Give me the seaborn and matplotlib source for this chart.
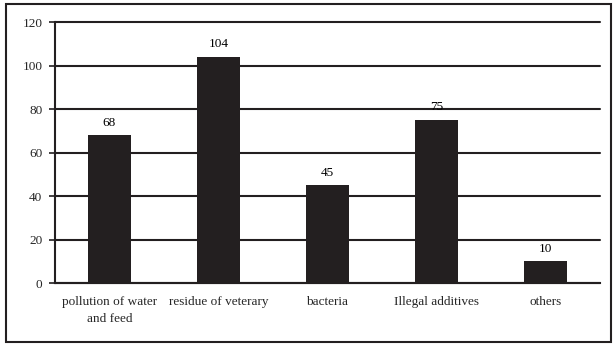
import matplotlib
matplotlib.use("Agg")
import matplotlib.pyplot as plt
from matplotlib.patches import Rectangle
import seaborn as sns
import pandas as pd

categories = ["pollution of water\nand feed", "residue of veterary", "bacteria",
              "Illegal additives", "others"]
counts = [68, 104, 45, 75, 10]
y_ticks = [0, 20, 40, 60, 80, 100, 120]

sns.set_theme(style="white")
plt.rcParams["font.family"] = ["Liberation Serif", "DejaVu Serif"]

df = pd.DataFrame({"category": categories, "count": counts})
ink = "#231f20"
fs = 9.5

fig = plt.figure(figsize=(6.13, 3.44), dpi=100)
ax = fig.add_axes([0.0897, 0.177, 0.889, 0.759])

sns.barplot(data=df, x="category", y="count", color=ink, saturation=1,
            width=0.4, linewidth=0, ax=ax, zorder=3)

for i, v in enumerate(counts):
    ax.text(i, v + 3, str(v), ha="center", va="bottom", fontsize=fs, color="black")

ax.set_ylim(0, 120)
ax.set_xlim(-0.5, len(categories) - 0.5)
ax.set_yticks(y_ticks)
ax.set_yticklabels([str(t) for t in y_ticks], fontsize=fs)
ax.yaxis.grid(True, color=ink, linewidth=1.5, zorder=0)
ax.set_axisbelow(True)
for gl in ax.get_ygridlines():
    gl.set_clip_on(False)

ax.set_xticks(range(len(categories)))
ax.set_xticklabels(categories, fontsize=fs, linespacing=1.6)
ax.tick_params(axis="x", which="major", length=0, pad=9)
ax.set_xticks([i + 0.5 for i in range(len(categories))], minor=True)
ax.tick_params(axis="x", which="minor", length=4, width=1.2, color=ink, direction="out")
ax.tick_params(axis="y", length=4, width=1.2, color=ink, direction="out", pad=5,
               left=True)
ax.set_xlabel("")
ax.set_ylabel("")

for side in ["top", "right"]:
    ax.spines[side].set_visible(False)
for side in ["left", "bottom"]:
    ax.spines[side].set_color(ink)
    ax.spines[side].set_linewidth(1.5)

fig.patches.append(Rectangle((0.0098, 0.006), 0.987, 0.982, transform=fig.transFigure,
                             fill=False, edgecolor=ink, linewidth=1.5))

fig.savefig("out.png", dpi=100)
